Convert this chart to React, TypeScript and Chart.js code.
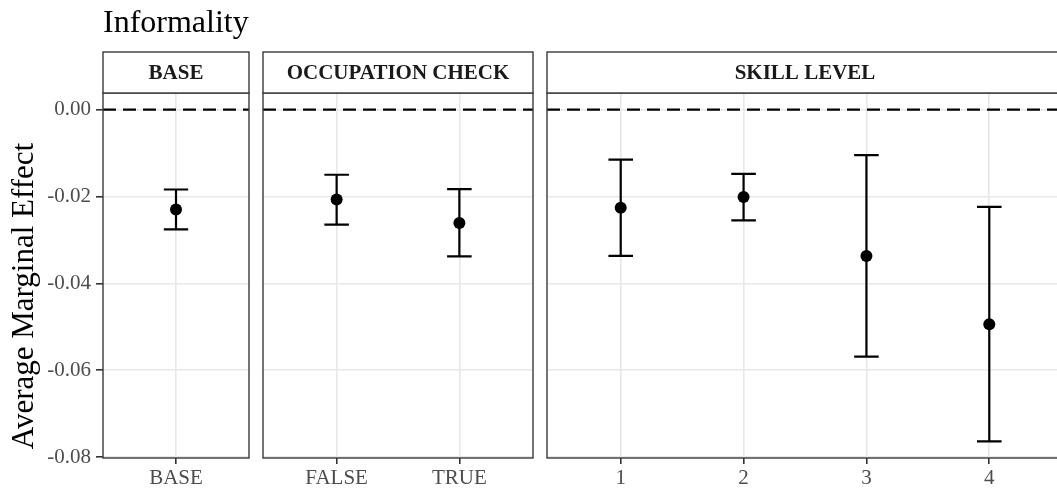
import React, { useEffect, useRef } from "react";
import { Chart, registerables } from "chart.js";

Chart.register(...registerables);

// Estimates with 95% intervals, one facet per model specification
const baseLabels = ["BASE"];
const baseEst = [-0.023];
const baseLow = [-0.0276];
const baseHigh = [-0.0184];

const occLabels = ["FALSE", "TRUE"];
const occEst = [-0.0207, -0.0261];
const occLow = [-0.0265, -0.0338];
const occHigh = [-0.015, -0.0183];

const skillLabels = ["1", "2", "3", "4"];
const skillEst = [-0.0226, -0.0201, -0.0337, -0.0494];
const skillLow = [-0.0337, -0.0255, -0.0569, -0.0764];
const skillHigh = [-0.0115, -0.0148, -0.0105, -0.0224];

const yTicks = [0, -0.02, -0.04, -0.06, -0.08];
const yTickLabels = ["0.00", "-0.02", "-0.04", "-0.06", "-0.08"];
const facetTitles = ["BASE", "OCCUPATION CHECK", "SKILL LEVEL"];
const plotTitle = "Informality";
const yAxisTitle = "Average Marginal Effect";
const refLine = 0;

const FONT = '"Liberation Serif", "Times New Roman", serif';
const CANVAS_H = 492;
const STRIP_TOP = 52;
const PANEL_TOP = 93;
const X_AXIS_H = 34;

type Panel = {
  labels: string[];
  est: number[];
  low: number[];
  high: number[];
  title: string;
  left: number;
  width: number;
  padLeft: number;
  first: boolean;
};

const panels: Panel[] = [
  { labels: baseLabels, est: baseEst, low: baseLow, high: baseHigh, title: facetTitles[0], left: 0, width: 256, padLeft: 0, first: true },
  { labels: occLabels, est: occEst, low: occLow, high: occHigh, title: facetTitles[1], left: 256, width: 284, padLeft: 7, first: false },
  { labels: skillLabels, est: skillEst, low: skillLow, high: skillHigh, title: facetTitles[2], left: 540, width: 530, padLeft: 7, first: false },
];

// Shared y range: data span (including the reference line) with 5% expansion
const allLow = Math.min(refLine, ...baseLow, ...occLow, ...skillLow);
const allHigh = Math.max(refLine, ...baseHigh, ...occHigh, ...skillHigh);
const span = allHigh - allLow;
const yMin = allLow - 0.05 * span;
const yMax = allHigh + 0.05 * span;

function makeChart(canvas: HTMLCanvasElement, p: Panel) {
  const decor = {
    id: "facetDecor",
    beforeDatasetsDraw(chart: any) {
      const { ctx, chartArea: a, scales } = chart;
      const xs = scales.x;
      const ys = scales.y;
      ctx.save();
      ctx.beginPath();
      ctx.rect(a.left, a.top, a.right - a.left, a.bottom - a.top);
      ctx.clip();
      // reference line
      const y0 = ys.getPixelForValue(refLine);
      ctx.beginPath();
      ctx.setLineDash([13, 7]);
      ctx.lineWidth = 2.2;
      ctx.strokeStyle = "#000";
      ctx.moveTo(a.left, y0);
      ctx.lineTo(a.right, y0);
      ctx.stroke();
      ctx.setLineDash([]);
      // error bars
      const half = xs.getPixelForValue(0.1) - xs.getPixelForValue(0);
      p.est.forEach((_, i) => {
        const x = xs.getPixelForValue(i);
        const yl = ys.getPixelForValue(p.low[i]);
        const yh = ys.getPixelForValue(p.high[i]);
        ctx.beginPath();
        ctx.moveTo(x, yl);
        ctx.lineTo(x, yh);
        ctx.moveTo(x - half, yl);
        ctx.lineTo(x + half, yl);
        ctx.moveTo(x - half, yh);
        ctx.lineTo(x + half, yh);
        ctx.stroke();
      });
      ctx.restore();
    },
    afterDraw(chart: any) {
      const { ctx, chartArea: a } = chart;
      ctx.save();
      ctx.lineWidth = 1.4;
      ctx.strokeStyle = "#3a3a3a";
      ctx.strokeRect(a.left, a.top, a.right - a.left, a.bottom - a.top);
      // facet strip
      ctx.fillStyle = "#fff";
      ctx.fillRect(a.left, STRIP_TOP, a.right - a.left, PANEL_TOP - STRIP_TOP);
      ctx.strokeRect(a.left, STRIP_TOP, a.right - a.left, PANEL_TOP - STRIP_TOP);
      ctx.fillStyle = "#1a1a1a";
      ctx.font = `bold 21px ${FONT}`;
      ctx.textAlign = "center";
      ctx.textBaseline = "middle";
      ctx.fillText(p.title, (a.left + a.right) / 2, (STRIP_TOP + PANEL_TOP) / 2 + 1);
      if (p.first) {
        ctx.fillStyle = "#000";
        ctx.font = `32px ${FONT}`;
        ctx.textAlign = "left";
        ctx.textBaseline = "alphabetic";
        ctx.fillText(plotTitle, a.left, 32);
        ctx.save();
        ctx.translate(25, 296);
        ctx.rotate(-Math.PI / 2);
        ctx.font = `31px ${FONT}`;
        ctx.textAlign = "center";
        ctx.textBaseline = "middle";
        ctx.fillText(yAxisTitle, 0, 0);
        ctx.restore();
      }
      ctx.restore();
    },
  };

  return new Chart(canvas, {
    type: "scatter",
    data: {
      datasets: [
        {
          data: p.est.map((y, i) => ({ x: i, y })),
          backgroundColor: "#000",
          borderColor: "#000",
          borderWidth: 0,
          pointRadius: 6,
        },
      ],
    },
    options: {
      responsive: false,
      animation: false,
      events: [],
      layout: { padding: { top: PANEL_TOP, bottom: 0, left: p.padLeft, right: 7 } },
      plugins: {
        legend: { display: false },
        tooltip: { enabled: false },
        title: { display: false },
      },
      scales: {
        x: {
          type: "linear",
          min: -0.6,
          max: p.labels.length - 0.4,
          afterBuildTicks: (s: any) => {
            s.ticks = p.labels.map((_, i) => ({ value: i }));
          },
          afterFit: (s: any) => {
            s.height = X_AXIS_H;
          },
          grid: { color: "#e8e8e8", lineWidth: 1.6, tickColor: "#333", tickWidth: 1.6, tickLength: 6, drawTicks: true },
          border: { display: false },
          ticks: {
            callback: (_v: any, i: number) => p.labels[i],
            color: "#4d4d4d",
            font: { family: FONT, size: 21 },
            padding: 2,
            maxRotation: 0,
            autoSkip: false,
          },
        },
        y: {
          type: "linear",
          min: yMin,
          max: yMax,
          afterBuildTicks: (s: any) => {
            s.ticks = yTicks.map((v) => ({ value: v }));
          },
          afterFit: (s: any) => {
            s.width = p.first ? 103 : 0;
          },
          grid: { color: "#e8e8e8", lineWidth: 1.6, tickColor: "#333", tickWidth: 1.6, tickLength: 7, drawTicks: p.first },
          border: { display: false },
          ticks: {
            display: p.first,
            callback: (_v: any, i: number) => yTickLabels[i],
            color: "#4d4d4d",
            font: { family: FONT, size: 21 },
            padding: 5,
          },
        },
      },
    },
    plugins: [decor],
  } as any);
}

export default function App() {
  const r0 = useRef<HTMLCanvasElement>(null);
  const r1 = useRef<HTMLCanvasElement>(null);
  const r2 = useRef<HTMLCanvasElement>(null);
  const refs = [r0, r1, r2];

  useEffect(() => {
    const charts = panels.map((p, k) => makeChart(refs[k].current as HTMLCanvasElement, p));
    return () => charts.forEach((c) => c.destroy());
  }, []);

  return (
    <div
      style={{
        position: "fixed",
        left: 0,
        top: 0,
        width: 1057,
        height: CANVAS_H,
        overflow: "hidden",
        background: "#fff",
      }}
    >
      {panels.map((p, k) => (
        <canvas
          key={k}
          ref={refs[k]}
          width={p.width}
          height={CANVAS_H}
          style={{ position: "absolute", left: p.left, top: 0, width: p.width, height: CANVAS_H }}
        />
      ))}
    </div>
  );
}
